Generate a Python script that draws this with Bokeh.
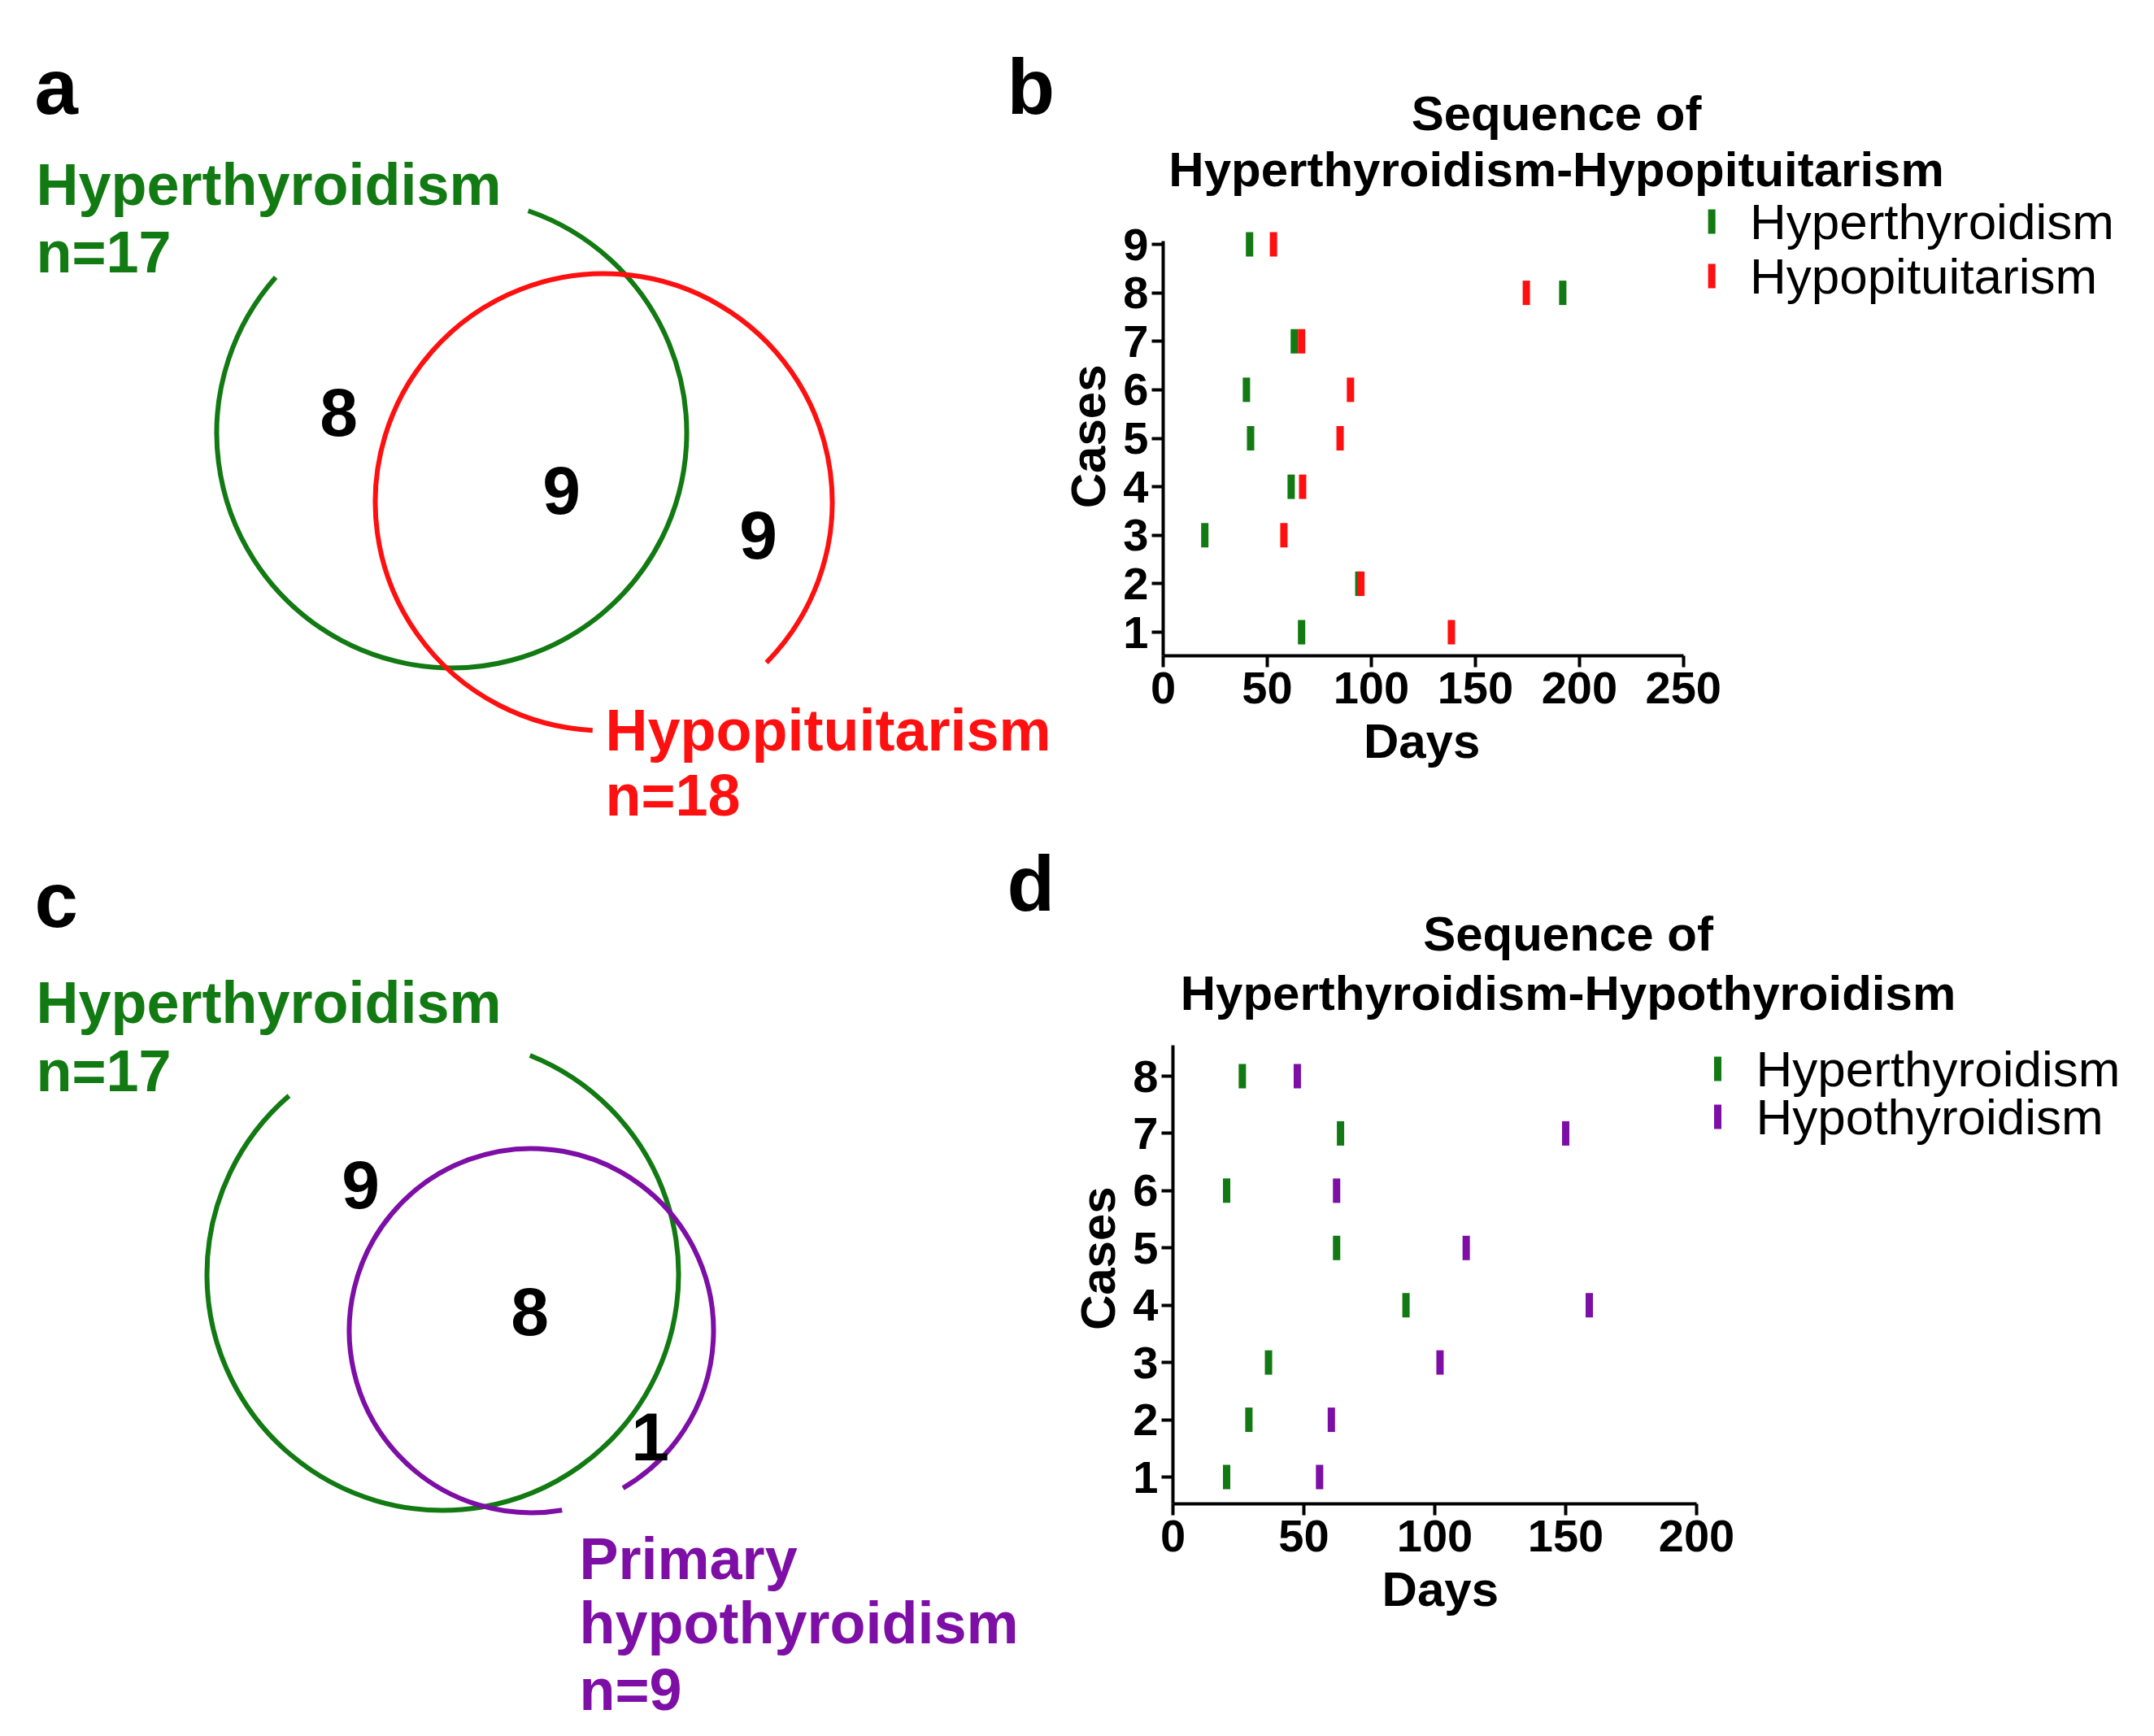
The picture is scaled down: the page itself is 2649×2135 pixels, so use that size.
import numpy as np
from bokeh.plotting import figure
from bokeh.models import Range1d, FixedTicker, Label
from bokeh.layouts import row, column
from bokeh.embed import file_html
from bokeh.resources import INLINE
from bokeh.core.properties import value

# ---------------- data ----------------
# panel a: Venn of hyperthyroidism / hypopituitarism
venn_a_names = ["Hyperthyroidism", "Hypopituitarism"]
venn_a_sizes = [17, 18]
venn_a_counts = [8, 9, 9]          # only first, both, only second

# panel c: Venn of hyperthyroidism / primary hypothyroidism
venn_c_names = ["Hyperthyroidism", "Primary hypothyroidism"]
venn_c_sizes = [17, 9]
venn_c_counts = [9, 8, 1]          # only first, both, only second

# panel b: onset day of each condition per case
cases_b = [1, 2, 3, 4, 5, 6, 7, 8, 9]
hyper_days_b = [66.5, 94, 20, 61.5, 42, 40, 63, 192, 41.5]
hypopit_days_b = [138.5, 95, 58, 67, 85, 90, 66.5, 174.5, 53]
x_ticks_b = [0, 50, 100, 150, 200, 250]

# panel d: onset day of each condition per case
cases_d = [1, 2, 3, 4, 5, 6, 7, 8]
hyper_days_d = [20.5, 29, 36.5, 89, 62.5, 20.5, 64, 26.5]
hypothy_days_d = [56, 60.5, 102, 159, 112, 62.5, 150, 47.5]
x_ticks_d = [0, 50, 100, 150, 200]

series_b = ["Hyperthyroidism", "Hypopituitarism"]
series_d = ["Hyperthyroidism", "Hypothyroidism"]

# ---------------- style ----------------
FONT = "Liberation Sans"
GREEN = "#127a12"
RED = "#ff1010"
PURPLE = "#7d0ea6"
LEFT_W = 1302      # page x 8..1310
RIGHT_W = 1331     # page x 1310..2641
TOP_H = 1012       # page y 8..1020
BOT_H = 1107       # page y 1020..2127
NB = "\u00a0"


def venn_fig(x0, y0, w, h):
    p = figure(width=w, height=h, x_range=Range1d(x0, x0 + w), y_range=Range1d(y0 + h, y0),
               min_border=0, toolbar_location=None, output_backend="svg", title=None,
               x_axis_location=None, y_axis_location=None)
    p.xgrid.grid_line_color = None
    p.ygrid.grid_line_color = None
    p.outline_line_color = None
    return p


def ptext(p, x, y, t, size, color="black", style="bold", align="left", baseline="alphabetic"):
    p.text(x=[x], y=[y], text=[t], text_font=value(FONT), text_font_size=value(size),
           text_font_style=style, text_color=color, text_align=align, text_baseline=baseline)


def venn_arc(p, cx, cy, r, gap_from, gap_to, color):
    p.arc(x=[cx], y=[cy], radius=r, start_angle=gap_to, end_angle=gap_from,
          start_angle_units="deg", end_angle_units="deg", direction="anticlock",
          line_color=color, line_width=6)


# ---------------- panel a ----------------
fa = venn_fig(8, 8, LEFT_W, TOP_H)
venn_arc(fa, 563, 540, 289, 71.0, 138.5, GREEN)
venn_arc(fa, 750, 625, 281, 267.2, 315.4, RED)
ptext(fa, 50, 114, "a", "96px")
ptext(fa, 1246, 114, "b", "96px")
ptext(fa, 52, 234, venn_a_names[0], "72px", GREEN)
ptext(fa, 52, 317, f"n={venn_a_sizes[0]}", "72px", GREEN)
ptext(fa, 752, 905, venn_a_names[1], "72px", RED)
ptext(fa, 752, 985, f"n={venn_a_sizes[1]}", "72px", RED)
fa.text(x=[424, 698, 940], y=[514, 610, 665], text=[str(c) for c in venn_a_counts],
        text_font=value(FONT), text_font_size=value("84px"), text_font_style="bold",
        text_color="black", text_align="center", text_baseline="middle")

# ---------------- panel c ----------------
fc = venn_fig(8, 1020, LEFT_W, BOT_H)
venn_arc(fc, 552, 1575, 290, 68.3, 130.7, GREEN)
venn_arc(fc, 661, 1644, 224, 279.7, 300.2, PURPLE)
ptext(fc, 50, 1114, "c", "96px")
ptext(fc, 1246, 1094, "d", "96px")
ptext(fc, 52, 1240, venn_c_names[0], "72px", GREEN)
ptext(fc, 52, 1324, f"n={venn_c_sizes[0]}", "72px", GREEN)
c_lines = venn_c_names[1].split(" ") + [f"n={venn_c_sizes[1]}"]
for yy, t in zip([1924, 2003, 2085], c_lines):
    ptext(fc, 720, yy, t, "72px", PURPLE)
fc.text(x=[451, 659, 807], y=[1464, 1620, 1774], text=[str(c) for c in venn_c_counts],
        text_font=value(FONT), text_font_size=value("84px"), text_font_style="bold",
        text_color="black", text_align="center", text_baseline="middle")


# ---------------- sequence panels ----------------
def seq_fig(fig_left, fig_top, h, frame_left, frame_bottom, x_last_px, x_last, case_lo_px,
            case_hi_px, cases, y_top_bound, days_center_px, cases_center_px):
    sx = (x_last_px - frame_left) / x_last
    sy = (case_lo_px - case_hi_px) / (cases[-1] - cases[0])
    y0 = cases[0] - (frame_bottom - case_lo_px) / sy
    frame_w = fig_left + RIGHT_W - frame_left
    frame_h = frame_bottom - fig_top
    p = figure(width=RIGHT_W, height=h,
               x_range=Range1d(0, frame_w / sx), y_range=Range1d(y0, y0 + frame_h / sy),
               min_border_left=frame_left - fig_left, min_border_right=0, min_border_top=0,
               min_border_bottom=fig_top + h - frame_bottom,
               toolbar_location=None, output_backend="svg", title=None)
    p.xgrid.grid_line_color = None
    p.ygrid.grid_line_color = None
    p.outline_line_color = None
    p.xaxis.bounds = (0, x_last)
    p.yaxis.bounds = (y0, y_top_bound)
    p.yaxis.ticker = FixedTicker(ticks=cases)
    # axis labels are centred on the frame; pad with no-break spaces so the
    # visible word sits under / beside the drawn part of the axis
    lbl_px = 0.278 * 60
    n_days = int(round(2 * ((frame_left + frame_w / 2) - days_center_px) / lbl_px))
    n_cases = int(round(2 * (cases_center_px - (fig_top + frame_h / 2)) / lbl_px))
    p.xaxis.axis_label = "Days" + NB * max(n_days, 0)
    p.yaxis.axis_label = "Cases" + NB * max(n_cases, 0)
    for ax in p.axis:
        ax.axis_line_width = 4
        ax.axis_line_color = "black"
        ax.major_tick_line_width = 4
        ax.major_tick_out = 14
        ax.major_tick_in = 0
        ax.minor_tick_line_color = None
        ax.major_label_text_font = FONT
        ax.major_label_text_font_size = "56px"
        ax.major_label_text_font_style = "bold"
        ax.major_label_text_color = "black"
        ax.axis_label_text_font = FONT
        ax.axis_label_text_font_size = "60px"
        ax.axis_label_text_font_style = "bold"
        ax.axis_label_text_color = "black"
    p.xaxis.major_label_standoff = 6
    p.xaxis.axis_label_standoff = 10
    p.yaxis.major_label_standoff = 4
    p.yaxis.axis_label_standoff = 6

    def px2x(px):
        return (px - frame_left) / sx

    def px2y(py):
        return y0 + (frame_bottom - py) / sy

    return p, px2x, px2y


def lab(p, x, y, t, size, style="bold", align="left", baseline="alphabetic", color="black"):
    p.add_layout(Label(x=x, y=y, text=t, text_font=FONT, text_font_size=size,
                       text_font_style=style, text_align=align, text_baseline=baseline,
                       text_color=color))


def ticks(p, series_x, cases, color):
    p.rect(x=series_x, y=cases, width=9, height=30, width_units="screen", height_units="screen",
           fill_color=color, line_color=None)


# panel b
fb, bx, by = seq_fig(1310, 8, TOP_H, 1432, 814, 2075, x_ticks_b[-1], 785, 308, cases_b, 9.07,
                     1753, 547)
fb.xaxis.ticker = FixedTicker(ticks=x_ticks_b)
ticks(fb, hyper_days_b, cases_b, GREEN)
ticks(fb, hypopit_days_b, cases_b, RED)
lab(fb, bx(1918), by(147), "Sequence of", "60px", align="center")
lab(fb, bx(1918), by(216), f"{series_b[0]}-{series_b[1]}", "60px", align="center")
for yy, name, col in zip([280, 347], series_b, [GREEN, RED]):
    fb.rect(x=[bx(2110)], y=[by(yy)], width=9, height=30, width_units="screen",
            height_units="screen", fill_color=col, line_color=None)
    lab(fb, bx(2157), by(yy), name, "62px", style="normal", baseline="middle")

# panel d
fd, dx, dy = seq_fig(1310, 1020, BOT_H, 1450, 1857, 2094, x_ticks_d[-1], 1824, 1331, cases_d,
                     8.54, 1775, 1556)
fd.xaxis.ticker = FixedTicker(ticks=x_ticks_d)
ticks(fd, hyper_days_d, cases_d, GREEN)
ticks(fd, hypothy_days_d, cases_d, PURPLE)
lab(fd, dx(1936), dy(1156), "Sequence of", "60px", align="center")
lab(fd, dx(1936), dy(1229), f"{series_d[0]}-{series_d[1]}", "60px", align="center")
for yy, name, col in zip([1322, 1381], series_d, [GREEN, PURPLE]):
    fd.rect(x=[dx(2120)], y=[dy(yy)], width=9, height=30, width_units="screen",
            height_units="screen", fill_color=col, line_color=None)
    lab(fd, dx(2167), dy(yy), name, "62px", style="normal", baseline="middle")

# wrap each figure on its own so that a row does not align the plot frames
layout = column(row(column(fa), column(fb)), row(column(fc), column(fd)))
open("out.html", "w").write(file_html(layout, INLINE))
